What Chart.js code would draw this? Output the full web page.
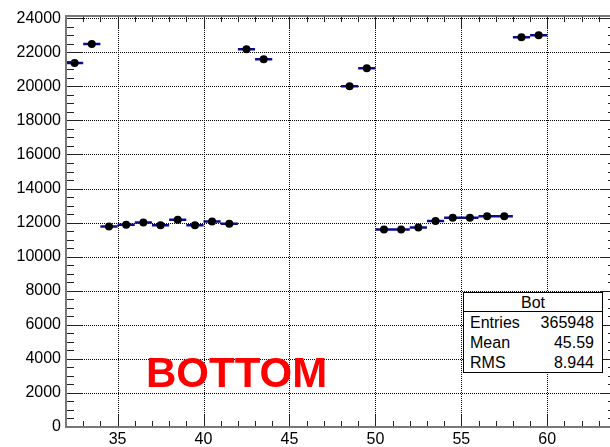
<!DOCTYPE html>
<html>
<head>
<meta charset="utf-8">
<script src="https://cdn.jsdelivr.net/npm/chart.js@4/dist/chart.umd.min.js"></script>
<style>
html,body{margin:0;padding:0;overflow:hidden;background:#fff;width:610px;height:447px;}
#wrap{position:relative;width:610px;height:447px;overflow:hidden;}
#c{position:absolute;left:0;top:0;}
#stats{position:absolute;left:463px;top:292px;width:138px;height:79px;border:1px solid #000;background:#fff;
  font-family:'Liberation Sans',Arial,Helvetica,sans-serif;font-size:16px;color:#000;}
#stats .title{height:18px;line-height:19px;text-align:center;border-bottom:1px solid #000;}
#stats .row{height:20px;line-height:21px;position:relative;}
#stats .row .l{position:absolute;left:6px;}
#stats .row .v{position:absolute;right:8px;}
#label{position:absolute;left:146px;top:352px;font-family:'Liberation Sans',Arial,Helvetica,sans-serif;
  font-weight:bold;font-size:42px;line-height:42px;color:#ff0000;white-space:nowrap;}
</style>
</head>
<body>
<div id="wrap">
  <canvas id="c" width="620" height="447"></canvas>
  <div id="label"></div>
  <div id="stats"></div>
</div>
<script>
// ---- data ----
const binCenters = [32.5, 33.5, 34.5, 35.5, 36.5, 37.5, 38.5, 39.5, 40.5, 41.5, 42.5, 43.5,
                    48.5, 49.5, 50.5, 51.5, 52.5, 53.5, 54.5, 55.5, 56.5, 57.5, 58.5, 59.5];
const binCounts  = [21370, 22490, 11770, 11880, 12000, 11850, 12175, 11850, 12060, 11940, 22180, 21590,
                    20000, 21060, 11590, 11590, 11710, 12100, 12290, 12290, 12370, 12370, 22880, 23000];
const binWidth = 1;
const xTickValues = [35, 40, 45, 50, 55, 60];
const yTickValues = [0, 2000, 4000, 6000, 8000, 10000, 12000, 14000, 16000, 18000, 20000, 22000, 24000];
const xRange = [32, 64];
const yRange = [0, 24130];
const xMinorStep = 1;
const yMinorStep = 500;
const statsTitle = 'Bot';
const statsLabels = ['Entries', 'Mean', 'RMS'];
const statsValues = ['365948', '45.59', '8.944'];
const plotLabel = 'BOTTOM';

// ---- overlays (real text) ----
document.getElementById('label').textContent = plotLabel;
const st = document.getElementById('stats');
const t = document.createElement('div'); t.className = 'title'; t.textContent = statsTitle; st.appendChild(t);
statsLabels.forEach((lab, i) => {
  const r = document.createElement('div'); r.className = 'row';
  const l = document.createElement('span'); l.className = 'l'; l.textContent = lab;
  const v = document.createElement('span'); v.className = 'v'; v.textContent = statsValues[i];
  r.appendChild(l); r.appendChild(v); st.appendChild(r);
});

// ---- datasets ----
const markerData = binCenters.map((x, i) => ({x: x, y: binCounts[i]}));
const errData = [];
binCenters.forEach((x, i) => {
  errData.push({x: x - binWidth / 2, y: binCounts[i]});
  errData.push({x: x + binWidth / 2, y: binCounts[i]});
  errData.push({x: x + binWidth / 2, y: null});
});

// ROOT-style dotted grid (under data), inward ticks on all four sides + frame
const rootAxes = {
  id: 'rootAxes',
  beforeDatasetsDraw(chart) {
    const {ctx, chartArea: a, scales: {x, y}} = chart;
    ctx.save();
    ctx.strokeStyle = 'rgba(0,0,0,1)';
    ctx.lineWidth = 1;
    ctx.setLineDash([1, 1]);
    xTickValues.forEach(v => {
      const px = Math.round(x.getPixelForValue(v)) + 0.5;
      ctx.beginPath(); ctx.moveTo(px, a.top); ctx.lineTo(px, a.bottom); ctx.stroke();
    });
    yTickValues.forEach(v => {
      const py = Math.round(y.getPixelForValue(v)) + 0.5;
      ctx.beginPath(); ctx.moveTo(a.left, py); ctx.lineTo(a.right, py); ctx.stroke();
    });
    ctx.restore();
  },
  afterDraw(chart) {
    const {ctx, chartArea: a, scales: {x, y}} = chart;
    ctx.save();
    ctx.strokeStyle = '#222';
    ctx.lineWidth = 1;
    ctx.beginPath();
    for (let v = xRange[0]; v <= xRange[1] + 1e-9; v += xMinorStep) {
      const px = Math.round(x.getPixelForValue(v)) + 0.5;
      const major = xTickValues.includes(v);
      const L = major ? 12 : 6;
      ctx.moveTo(px, a.bottom); ctx.lineTo(px, a.bottom - L);
      ctx.moveTo(px, a.top); ctx.lineTo(px, a.top + L);
    }
    for (let v = 0; v <= yRange[1]; v += yMinorStep) {
      const py = Math.round(y.getPixelForValue(v)) + 0.5;
      const major = yTickValues.includes(v);
      const L = major ? 16 : 8;
      ctx.moveTo(a.left, py); ctx.lineTo(a.left + L, py);
      ctx.moveTo(a.right, py); ctx.lineTo(a.right - L, py);
    }
    ctx.stroke();
    ctx.strokeStyle = '#777';
    ctx.lineWidth = 2;
    ctx.strokeRect(a.left, a.top, a.right - a.left, a.bottom - a.top);
    ctx.restore();
  }
};

const fontSpec = {family: "'Liberation Sans', Arial, Helvetica, sans-serif", size: 16};

new Chart(document.getElementById('c'), {
  data: {
    datasets: [
      {type: 'scatter', data: markerData, order: 0, pointRadius: 4, pointBackgroundColor: '#000',
       pointBorderWidth: 0, showLine: false},
      {type: 'line', data: errData, order: 1, borderColor: '#0c0c8c', borderWidth: 2.5,
       pointRadius: 0, spanGaps: false, tension: 0}
    ]
  },
  options: {
    responsive: false,
    animation: false,
    events: [],
    layout: {padding: {top: 16, right: 1, left: 0, bottom: 0}},
    plugins: {legend: {display: false}, tooltip: {enabled: false}},
    scales: {
      x: {
        type: 'linear', min: xRange[0], max: xRange[1],
        afterBuildTicks: s => { s.ticks = xTickValues.map(v => ({value: v})); },
        afterFit: s => { s.height = 20; },
        ticks: {font: fontSpec, color: '#000', padding: 3, maxRotation: 0, autoSkip: false,
                callback: v => String(v)},
        grid: {display: true, drawOnChartArea: false, drawTicks: false},
        border: {display: false}
      },
      y: {
        type: 'linear', min: yRange[0], max: yRange[1],
        afterBuildTicks: s => { s.ticks = yTickValues.map(v => ({value: v})); },
        afterFit: s => { s.width = 66; },
        ticks: {font: fontSpec, color: '#000', padding: 5, autoSkip: false,
                callback: v => String(v)},
        grid: {display: true, drawOnChartArea: false, drawTicks: false},
        border: {display: false}
      }
    }
  },
  plugins: [rootAxes]
});
</script>
</body>
</html>
